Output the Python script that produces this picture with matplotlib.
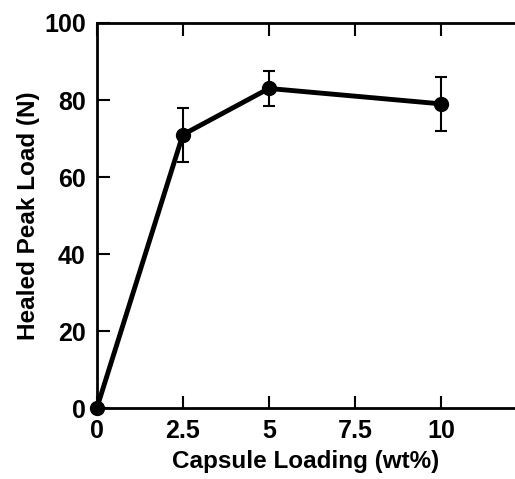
import matplotlib
matplotlib.use("Agg")
import matplotlib.pyplot as plt

plt.rcParams['font.family'] = ['Liberation Sans', 'DejaVu Sans']
plt.rcParams['font.weight'] = 'bold'

loading = [0, 2.5, 5, 10]
peak_load = [0, 71, 83, 79]
peak_err = [0, 7, 4.6, 7]
xticks = [0, 2.5, 5, 7.5, 10]
xtick_labels = ['0', '2.5', '5', '7.5', '10']
yticks = [0, 20, 40, 60, 80, 100]

fig = plt.figure(figsize=(5.15, 4.79), dpi=100)
ax = fig.add_axes([0.188, 0.148, 0.812, 0.804])

ax.errorbar(loading, peak_load, yerr=peak_err, color='black', lw=3.5,
            marker='o', markersize=10, ecolor='black', elinewidth=1.5,
            capsize=4, capthick=1.5, clip_on=False, zorder=5)

ax.set_xlim(0, 12.15)
ax.set_ylim(0, 100)
ax.set_xticks(xticks)
ax.set_xticklabels(xtick_labels)
ax.set_yticks(yticks)
ax.spines['right'].set_visible(False)
for s in ['left', 'bottom', 'top']:
    ax.spines[s].set_linewidth(2)
ax.tick_params(direction='in', length=9, width=1.5, labelsize=18, top=True,
               pad=8)
ax.set_xlabel('Capsule Loading (wt%)', fontsize=17.5, fontweight='bold', labelpad=5)
ax.set_ylabel('Healed Peak Load (N)', fontsize=17.5, fontweight='bold', labelpad=3)

fig.savefig('out.png', dpi=100)
